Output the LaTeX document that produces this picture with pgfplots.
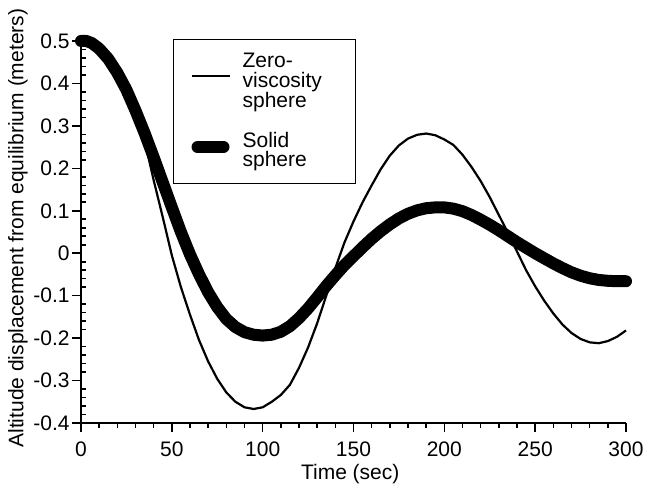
\documentclass[border=0pt]{standalone}
\usepackage{fontspec}
\setmainfont{Liberation Sans}
\usepackage{pgfplots}
\pgfplotsset{compat=1.18}

% zero-viscosity sphere (thin curve)
\pgfplotstableread{
t y
0 0.500
5 0.495
10 0.481
15 0.457
20 0.423
25 0.380
30 0.328
35 0.266
40 0.172
45 0.085
50 -0.005
55 -0.080
60 -0.145
65 -0.205
70 -0.255
75 -0.296
80 -0.328
85 -0.350
90 -0.363
95 -0.367
100 -0.363
105 -0.350
110 -0.334
115 -0.310
120 -0.270
125 -0.222
130 -0.165
135 -0.100
140 -0.035
145 0.025
150 0.075
155 0.120
160 0.160
165 0.198
170 0.230
175 0.254
180 0.270
185 0.279
190 0.282
195 0.278
200 0.268
205 0.255
210 0.232
215 0.203
220 0.170
225 0.132
230 0.090
235 0.048
240 0.004
245 -0.040
250 -0.078
255 -0.112
260 -0.142
265 -0.168
270 -0.188
275 -0.202
280 -0.210
285 -0.212
290 -0.207
295 -0.197
300 -0.182
}\zerovisc

% solid sphere (thick curve)
\pgfplotstableread{
t y
0 0.500
3 0.500
6 0.495
10 0.482
15 0.458
20 0.425
25 0.385
30 0.336
35 0.283
40 0.226
45 0.167
50 0.108
55 0.050
60 -0.003
65 -0.050
70 -0.092
75 -0.127
80 -0.155
85 -0.174
90 -0.186
95 -0.192
100 -0.194
105 -0.192
110 -0.185
115 -0.172
120 -0.153
125 -0.130
130 -0.104
135 -0.077
140 -0.052
145 -0.028
150 -0.007
155 0.014
160 0.034
165 0.052
170 0.068
175 0.082
180 0.093
185 0.101
190 0.106
195 0.108
200 0.108
205 0.105
210 0.099
215 0.090
220 0.079
225 0.067
230 0.054
235 0.040
240 0.026
245 0.013
250 0.000
255 -0.012
260 -0.024
265 -0.035
270 -0.045
275 -0.053
280 -0.059
285 -0.063
290 -0.065
295 -0.066
300 -0.066
}\solid

\begin{document}
\begin{tikzpicture}
\begin{axis}[
  scale only axis,
  width=272.5pt, height=191pt,
  xmin=0, xmax=300, ymin=-0.4, ymax=0.5,
  axis lines*=left,
  axis line style={line width=0.8pt},
  clip=false,
  xtick={0,50,...,300},
  ytick={-0.4,-0.3,...,0.5},
  minor x tick num=4,
  minor y tick num=4,
  tick align=outside,
  major tick length=4.5pt,
  minor tick length=2.5pt,
  tick style={line width=0.8pt, black},
  minor y tick style={xshift=2.5pt},
  /pgf/number format/assume math mode=true,
  tick label style={font=\fontsize{10.5}{12}\selectfont},
  yticklabel style={inner xsep=1pt},
  xticklabel style={yshift=-1.5pt},
  xlabel={Time (sec)},
  ylabel={Altitude displacement from equilibrium (meters)},
  every axis x label/.style={at={(axis description cs:0.494,0)}, anchor=center, yshift=-25.5pt,
    inner sep=1pt, font=\fontsize{10.5}{12}\selectfont},
  every axis y label/.style={at={(axis description cs:-0.1156,0.51)}, rotate=90, anchor=center,
    font=\fontsize{10.5}{12}\selectfont},
  legend style={at={(axis cs:50.6,0.505)}, anchor=north west, draw=black, line width=0.5pt,
    font=\fontsize{10.5}{9.8}\selectfont, cells={align=left, anchor=west},
    inner xsep=8.5pt, inner ysep=5pt, row sep=7pt,
    /tikz/every odd column/.append style={column sep=4pt}},
]
\addplot[black, line width=1.1pt, line join=round,
  legend image code/.code={\draw[line width=1.1pt] (0pt,3pt) -- (19pt,3pt);}]
  table[x=t, y=y] {\zerovisc};
\addlegendentry{Zero-\\\makebox[46pt][l]{viscosity}\\sphere}
\addplot[black, line width=6pt, line cap=round, line join=round,
  legend image code/.code={\draw[line width=6pt, line cap=round] (3pt,2pt) -- (16pt,2pt);}]
  table[x=t, y=y] {\solid};
\addlegendentry{Solid\\sphere}
\coordinate (ll) at (rel axis cs:0,0);
\coordinate (ur) at (rel axis cs:1,1);
\end{axis}
\pgfresetboundingbox
\path[use as bounding box] ([shift={(-40.5pt,-31pt)}]ll) rectangle ([shift={(9.5pt,20.5pt)}]ur);
\end{tikzpicture}
\end{document}
